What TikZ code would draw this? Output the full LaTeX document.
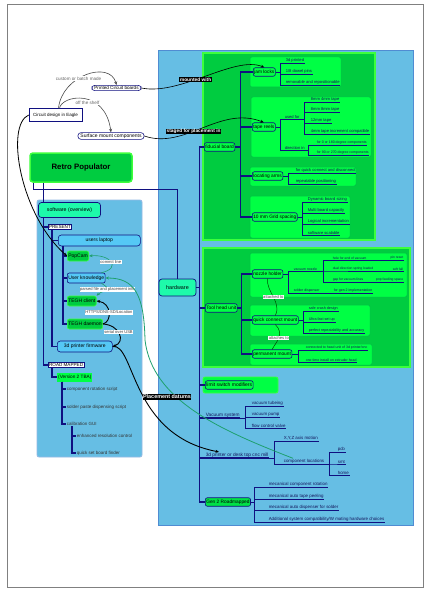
\documentclass[tikz,border=0pt]{standalone}
\usepackage{fontspec}
\setmainfont{Liberation Sans}
\usetikzlibrary{arrows.meta}

\definecolor{panelblue}{RGB}{102,190,228}
\definecolor{paneledge}{RGB}{80,140,210}
\definecolor{darkgrn}{RGB}{0,204,64}
\definecolor{litegrn}{RGB}{0,255,68}
\definecolor{grnedge}{RGB}{60,255,60}
\definecolor{boxedge}{RGB}{0,190,70}
\definecolor{gentwo}{RGB}{0,225,70}
\definecolor{navy}{RGB}{16,16,128}
\definecolor{mint}{RGB}{30,250,170}
\definecolor{sky}{RGB}{85,200,245}
\definecolor{linkgrn}{RGB}{30,160,110}
\definecolor{leaftext}{RGB}{20,20,90}

\newcommand\leaffont{\fontsize{4.1}{5}\selectfont}
\newcommand\smallleaf{\fontsize{3.5}{4}\selectfont}
\newcommand\tinyleaf{\fontsize{3.3}{4}\selectfont}
\newcommand\bigleaf{\fontsize{4.4}{5}\selectfont}
\newcommand\topicfont{\fontsize{4.8}{5.5}\selectfont}
\newcommand\swfont{\fontsize{5}{6}\selectfont}
\newcommand\swleaffont{\fontsize{4.5}{5}\selectfont}
\newcommand\tagfont{\bfseries\fontsize{4.8}{5.5}\selectfont}
\newcommand\notefont{\fontsize{4.1}{5}\selectfont}

\begin{document}
\begin{tikzpicture}[x=1pt,y=-1pt,
  topic/.style={draw=navy,fill=litegrn,rounded corners=2pt,line width=0.6pt,inner sep=1pt,anchor=west,font=\topicfont,minimum height=8.5pt},
  swnode/.style={draw=navy,fill=sky,rounded corners=2pt,line width=0.6pt,inner sep=1pt,anchor=west,font=\swfont,minimum height=10pt},
  swgreen/.style={swnode,fill=darkgrn,draw=grnedge},
  leaf/.style={anchor=south west,inner sep=0.6pt,font=\leaffont,text=leaftext},
  swleaf/.style={anchor=west,inner sep=0.6pt,font=\swleaffont,text=black!80},
  fork/.style={draw=navy,line width=0.7pt},
  trunk/.style={draw=navy,line width=1.1pt},
  minibox/.style={fill=litegrn,draw=boxedge,line width=0.5pt,rounded corners=2pt},
  grnpanel/.style={fill=darkgrn,draw=grnedge,line width=1.2pt},
  tag/.style={fill=black,text=white,inner sep=0.6pt,font=\tagfont},
  note/.style={fill=white,text=black!75,inner sep=0.5pt,font=\notefont},
  link/.style={draw=black,line width=0.6pt,-{Stealth[length=3.5pt,width=3pt]}},
  greenlink/.style={link,draw=linkgrn},
  softlink/.style={draw=black!70!green,line width=0.5pt}]

\useasboundingbox (0,0) rectangle (428,591);
\fill[white] (0,0) rectangle (428,591);
\draw[gray,line width=0.8pt] (7,4) rectangle (423,587);

\draw[fill=panelblue,draw=paneledge,line width=0.8pt] (158,50) rectangle (413,525);
\draw[fill=panelblue,draw=paneledge!60,line width=0.8pt,rounded corners=2pt] (37,200) rectangle (142,457);

\draw[grnpanel] (203,53) rectangle (375,240);
\draw[minibox] (250,57) rectangle (341,87);
\draw[minibox] (251,97) rectangle (371,157);
\draw[minibox] (250,167) rectangle (356,186);
\draw[minibox] (250,196) rectangle (350,238);

\draw[grnpanel] (203,248) rectangle (410,367);
\draw[minibox] (250,253) rectangle (407,297);
\draw[minibox] (250,305) rectangle (370,336);
\draw[minibox] (250,344) rectangle (372,365);

\draw[minibox,draw=grnedge,line width=0.8pt] (203,377) rectangle (278,393);

\node[draw=navy,fill=white,line width=0.6pt,font=\fontsize{4.5}{5}\selectfont,minimum width=53pt,minimum height=13pt,inner sep=1pt] (eagle) at (55.5,115) {Circuit design in Eagle};
\node[draw=navy,fill=white,line width=0.6pt,rounded corners=3pt,font=\fontsize{4.6}{5}\selectfont,inner xsep=2.5pt,inner ysep=1pt] (pcb) at (116.5,88) {Printed Circuit boards};
\node[draw=navy,fill=white,line width=0.6pt,rounded corners=3pt,font=\fontsize{5}{5.5}\selectfont,inner xsep=2.5pt,inner ysep=1pt] (smc) at (111,136) {Surface mount components};

\node[fill=darkgrn,draw=grnedge,line width=1.5pt,rounded corners=3pt,minimum width=102pt,minimum height=29pt,font=\bfseries\fontsize{7.8}{9}\selectfont] (root) at (81,167.5) {Retro Populator};

\node[fill=mint,draw=navy,line width=0.7pt,rounded corners=3pt,minimum width=37pt,minimum height=17pt,font=\fontsize{5.4}{6}\selectfont] (hw) at (177.5,287.5) {hardware};

\node[topic] (fid) at (204,147) {fiducial board};
\node[topic] (jam) at (253,72) {jam locks};
\node[topic] (reels) at (252,127) {tape reels};
\node[topic] (arms) at (252,176) {locating arms};
\node[topic] (grid) at (252,217) {10 mm Grid spacing};
\node[topic] (tool) at (205,308) {Tool head unit};
\node[topic] (nozzle) at (252,274) {nozzle holder};
\node[topic] (qcm) at (252,320) {quick connect mount};
\node[topic] (perm) at (252,354) {permanent mount};
\node[topic,font=\fontsize{5}{6}\selectfont] (limit) at (205,385) {limit switch modifiers};
\node[leaf,font=\fontsize{4.8}{5}\selectfont] (vacsys) at (205,418) {Vacuum system};
\node[leaf,font=\fontsize{4.8}{5}\selectfont] (cnc) at (205,458) {3d printer or desk top cnc mill};
\node[topic,fill=gentwo] (gen2) at (205,502) {Gen 2 Roadmapped};

\foreach \n in {fid,tool,limit,gen2}
  \draw[trunk] (hw.east) -- ++(3,0) |- (\n.west);
\foreach \n in {vacsys,cnc}
  \draw[trunk] (hw.east) -- ++(3,0) |- (\n.south east);
\foreach \n in {jam,reels,arms,grid}
  \draw[trunk] (fid.east) -- ++(5,0) |- (\n.west);
\foreach \n in {nozzle,qcm,perm}
  \draw[trunk] (tool.east) -- ++(4,0) |- (\n.west);

\foreach \y/\t [count=\i] in {63/{3d printed},74/{1/8 dowel pins},85/{removable and repositionable}} {
  \node[leaf] (jam\i) at (285,\y) {\t};
  \draw[fork] (jam.east) -- ++(5,0) |- (jam\i.south east);
}

\node[leaf] (usefor) at (284,119) {used for};
\node[leaf] (dirin) at (284,150) {direction in};
\foreach \n in {usefor,dirin}
  \draw[fork] (reels.east) -- ++(5,0) |- (\n.south east);
\foreach \y/\t [count=\i] in {102/{8mm 4mm tape},112/{8mm 8mm tape},123/{12mm tape},134/{4mm tape increment compatible}} {
  \node[leaf] (use\i) at (310,\y) {\t};
  \draw[fork] (usefor.south east) -- ++(4,0) |- (use\i.south east);
}
\foreach \y/\t [count=\i] in {145/{for 0 or 180 degree components},155/{for 90 or 270 degree components}} {
  \node[leaf,font=\smallleaf] (dir\i) at (316,\y) {\t};
  \draw[fork] (dirin.south east) -- ++(3,0) |- (dir\i.south east);
}

\foreach \y/\t [count=\i] in {173/{for quick connect and disconnect},184/{repeatable positioning}} {
  \node[leaf] (arm\i) at (295,\y) {\t};
  \draw[fork] (arms.east) -- ++(5,0) |- (arm\i.south east);
}

\foreach \y/\t [count=\i] in {202/{Dynamic board sizing},213/{Multi board capacity},224/{Logical incrementation},235/{software scalable}} {
  \node[leaf] (grd\i) at (307,\y) {\t};
  \draw[fork] (grid.east) -- ++(5,0) |- (grd\i.south east);
}

\node[leaf,font=\smallleaf] (vacnoz) at (293,271) {vacuum nozzle};
\node[leaf,font=\smallleaf] (solder) at (293,293) {solder dispenser};
\foreach \n in {vacnoz,solder}
  \draw[fork] (nozzle.east) -- ++(5,0) |- (\n.south east);
\foreach \y/\t/\s [count=\i] in {260/{hole for end of vacuum}/{pin reset},271/{dual direction spring loaded}/{soft fall},282/{gap for vacuum lines}/{pnp feeding space}} {
  \node[leaf,font=\tinyleaf] (noz\i) at (332,\y) {\t};
  \node[leaf,font=\tinyleaf,anchor=south east] (nzend\i) at (404,\y) {\s};
  \draw[fork] (vacnoz.south east) -- ++(5,0) |- (noz\i.south east);
  \draw[fork] (noz\i.south east) -- (nzend\i.south east);
}
\node[leaf,font=\smallleaf] (gentwoimpl) at (333,293) {for gen 2 implementation};
\draw[fork] (solder.south east) -- (gentwoimpl.south east);

\foreach \y/\t [count=\i] in {311/{safe crash design},322/{Ultra fast set up},333/{perfect repeatability and accuracy}} {
  \node[leaf,font=\fontsize{3.7}{4}\selectfont] (qc\i) at (308,\y) {\t};
  \draw[fork] (qcm.east) -- ++(5,0) |- (qc\i.south east);
}

\foreach \y/\t [count=\i] in {350/{connected to head unit of 3d printer/cnc},362/{one time install on extruder head}} {
  \node[leaf,font=\smallleaf] (pm\i) at (305,\y) {\t};
  \draw[fork] (perm.east) -- ++(6,0) |- (pm\i.south east);
}

\foreach \y/\t [count=\i] in {406/{vacuum tubeing},417/{vacuum pump},428/{flow control valve}} {
  \node[leaf,font=\bigleaf] (vac\i) at (251,\y) {\t};
  \draw[fork] (vacsys.south east) -- ++(5,0) |- (vac\i.south east);
}

\node[leaf,font=\bigleaf] (xyz) at (283,441) {X,Y,Z axis motion};
\node[leaf,font=\bigleaf] (comploc) at (283,464) {component locations};
\foreach \n in {xyz,comploc}
  \draw[fork] (cnc.south east) -- ++(5,0) |- (\n.south east);
\foreach \y/\t [count=\i] in {452/pcb,464/smt,475/home} {
  \node[leaf,font=\bigleaf] (loc\i) at (337,\y) {\t};
  \draw[fork] (comploc.south east) -- ++(4,0) |- (loc\i.south east);
}

\foreach \y/\t [count=\i] in {487/{mecanical component rotation},499/{mecanical auto tape peeling},510/{mecanical auto dispenser for solder},522/{Additional system compatibility/W mating hardware choices}} {
  \node[leaf,font=\bigleaf] (gt\i) at (268,\y) {\t};
  \draw[fork] (gen2.east) -- ++(4,0) |- (gt\i.south east);
}

\node[fill=mint,draw=navy,line width=0.7pt,rounded corners=3pt,minimum width=62pt,minimum height=15pt,font=\fontsize{5.2}{6}\selectfont] (sw) at (69.5,210) {software (overview)};
\node[draw=navy,fill=white,line width=0.6pt,inner sep=0.8pt,anchor=west,font=\fontsize{4.6}{5}\selectfont] (present) at (48,227) {PRESENT};
\node[swnode,rounded corners=3pt,minimum width=82pt,minimum height=11pt] (laptop) at (58,240.5) {users laptop};
\node[swgreen] (popcam) at (67,256) {PopCam};
\node[swnode] (know) at (67,278) {User knowledge};
\node[swgreen] (client) at (67,301) {TEGH client};
\node[swgreen] (daemon) at (67,324) {TEGH daemon};
\node[swnode,rounded corners=3pt,minimum width=55pt,minimum height=11pt] (firmware) at (57,346.5) {3d printer firmware};
\node[draw=navy,fill=white,line width=0.6pt,inner sep=0.8pt,anchor=west,font=\fontsize{4.6}{5}\selectfont] (road) at (48,365) {ROAD MAPPED};
\node[fill=litegrn,inner sep=1pt,anchor=west,font=\fontsize{4.7}{5}\selectfont,minimum height=9pt] (vtwo) at (57,377) {(Version 2 TBA)};
\node[swleaf] (rot) at (66,389) {component rotation script};
\node[swleaf] (paste) at (66,407) {solder paste dispensing script};
\node[swleaf] (calib) at (66,424) {calibration GUI};
\node[swleaf] (enh) at (76,436) {enhanced resolution control};
\node[swleaf] (quick) at (76,453) {quick set board finder};

\coordinate (swtop) at ([xshift=5pt]sw.north west);
\draw[fork] ([xshift=4pt]root.south west) -- ++(0,7) -| (hw.north);
\draw[fork] (swtop |- root.south) -- (swtop);
\foreach \n in {present,road}
  \draw[trunk] ([xshift=5pt]sw.south west) |- (\n.west);
\foreach \n in {laptop,firmware}
  \draw[trunk] ([xshift=4pt]present.south west) |- (\n.west);
\foreach \n in {popcam,know,client,daemon}
  \draw[trunk] ([xshift=5pt]laptop.south west) |- (\n.west);
\draw[trunk] ([xshift=4pt]road.south west) |- (vtwo.west);
\foreach \n in {rot,paste,calib}
  \draw[trunk] ([xshift=5pt]vtwo.south west) |- (\n.west);
\foreach \n in {enh,quick}
  \draw[trunk] ([xshift=6pt]calib.south west) |- (\n.west);

\draw[link,draw=black!70] ([xshift=3pt]eagle.north) .. controls (62,75) and (110,60) .. (pcb.north)
  node[pos=0.4,fill=white,inner sep=0.5pt,text=black!60,font=\fontsize{4.6}{5}\selectfont] {custom or batch made};
\draw[link,draw=black!70] ([xshift=4pt]eagle.north) .. controls (62,95) and (105,88) .. (smc.north)
  node[pos=0.55,yshift=-3pt,fill=white,inner sep=0.5pt,text=black!60,font=\fontsize{4.6}{5}\selectfont] {off the shelf};
\draw[link,line width=0.8pt] (eagle.west) .. controls (5,125) and (20,215) .. (popcam.west);
\draw[link] (pcb.east) .. controls (180,96) and (235,55) .. (jam.north)
  node[tag,pos=0.42] {mounted with};
\draw[link] (smc.east) .. controls (185,150) and (220,105) .. (reels.north)
  node[tag,pos=0.42] {staged for placement in};

\draw[softlink] (nozzle.south) .. controls (266,292) and (282,302) .. (qcm.north)
  node[note,pos=0.5] {attached to};
\draw[softlink] (qcm.south) .. controls (285,334) and (276,342) .. (perm.north)
  node[note,pos=0.5] {attaches to};

\draw[greenlink] ([xshift=-4pt]know.north east) .. controls (122,268) and (110,254) .. (popcam.east)
  node[note,pos=0.5] {commit line};
\draw[greenlink] ([xshift=-4pt]know.south east) .. controls (115,292) and (104,289) .. (client.north east)
  node[note,pos=0.45] {parsed file and placement info};
\draw[link,line width=0.9pt] (daemon.east) .. controls (112,322) and (112,303) .. (client.east)
  node[note,pos=0.5] {HTTPS/DNS-SD/Location};
\draw[link,line width=0.9pt] (daemon.east) .. controls (120,325) and (126,342) .. (firmware.east)
  node[note,pos=0.45] {serial over USB};
\draw[link,line width=0.9pt] (firmware.east) .. controls (135,343) and (130,435) .. ([xshift=14pt]cnc.north west);
\draw[greenlink,line width=0.8pt] ([xshift=10pt]comploc.north west) .. controls (220,430) and (152,400) .. (145,340)
  .. controls (144,295) and (135,278) .. (know.east);
\node[tag,font=\bfseries\fontsize{5.4}{6}\selectfont] (datums) at (167,397) {Placement datums};

\end{tikzpicture}
\end{document}
